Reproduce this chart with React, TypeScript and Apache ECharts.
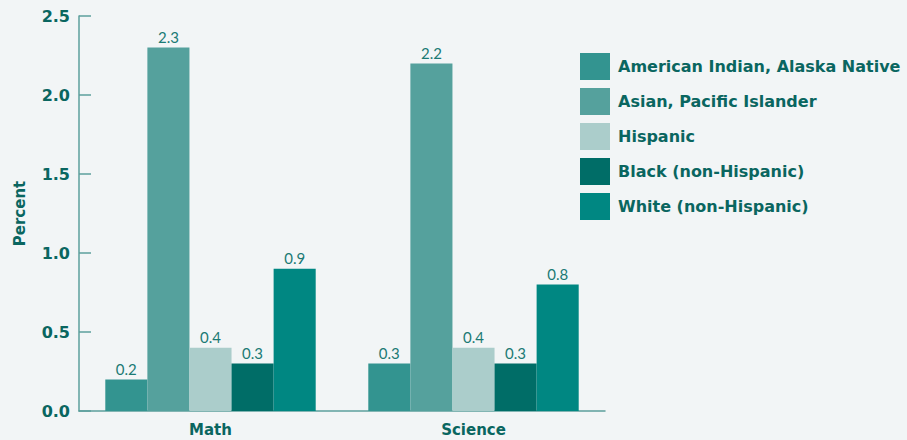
import React, { useEffect, useRef } from "react";
import * as echarts from "echarts";

const subjects = ["Math", "Science"];
const groupNames = [
  "American Indian, Alaska Native",
  "Asian, Pacific Islander",
  "Hispanic",
  "Black (non-Hispanic)",
  "White (non-Hispanic)",
];
const americanIndian = [0.2, 0.3];
const asianPacific = [2.3, 2.2];
const hispanic = [0.4, 0.4];
const black = [0.3, 0.3];
const white = [0.9, 0.8];
const groupColors = ["#339490", "#55a19d", "#abcdcb", "#006d67", "#008782"];

const TEXT = "#0a6660";
const AXIS = "#5c9f9c";
const BOLD_FONT = "'DejaVu Sans', Verdana, sans-serif";
const LIGHT_FONT = "Lato, 'Open Sans', sans-serif";

export default function App() {
  const ref = useRef<HTMLDivElement>(null);
  useEffect(() => {
    if (!ref.current) return;
    const chart = echarts.init(ref.current, undefined, { renderer: "svg" });
    const values = [americanIndian, asianPacific, hispanic, black, white];
    chart.setOption({
      animation: false,
      backgroundColor: "#f2f5f6",
      textStyle: { fontFamily: BOLD_FONT },
      grid: { left: 79, right: 302, top: 16, bottom: 29 },
      legend: {
        orient: "vertical",
        left: 575,
        top: 48,
        itemWidth: 30,
        itemHeight: 27,
        itemGap: 8,
        icon: "rect",
        data: groupNames,
        textStyle: {
          color: TEXT,
          fontWeight: "bold",
          fontSize: 16,
          fontFamily: BOLD_FONT,
          padding: [0, 0, 0, 3],
        },
      },
      xAxis: {
        type: "category",
        data: subjects,
        axisLine: { lineStyle: { color: AXIS, width: 1.5 } },
        axisTick: { inside: true, length: 10, lineStyle: { color: AXIS } },
        axisLabel: { color: TEXT, fontWeight: "bold", fontSize: 15, margin: 11, fontFamily: BOLD_FONT },
      },
      yAxis: {
        type: "value",
        min: 0,
        max: 2.5,
        interval: 0.5,
        name: "Percent",
        nameLocation: "middle",
        nameGap: 52,
        nameTextStyle: { color: TEXT, fontWeight: "bold", fontSize: 15, fontFamily: BOLD_FONT },
        splitLine: { show: false },
        axisLine: { show: true, lineStyle: { color: AXIS, width: 1.5 } },
        axisTick: { show: true, inside: true, length: 12, lineStyle: { color: AXIS, width: 1.5 } },
        axisLabel: {
          color: TEXT,
          fontWeight: "bold",
          fontSize: 16,
          margin: 9,
          fontFamily: BOLD_FONT,
          formatter: (v: number) => v.toFixed(1),
        },
      },
      series: groupNames.map((name, i) => ({
        name,
        type: "bar",
        data: values[i],
        barGap: "0%",
        barCategoryGap: "20%",
        itemStyle: { color: groupColors[i] },
        label: {
          show: true,
          position: "top",
          distance: 3,
          color: "#1b7a74",
          fontSize: 15,
          fontFamily: LIGHT_FONT,
          formatter: (p: any) => p.value.toFixed(1),
        },
      })),
    });
    return () => chart.dispose();
  }, []);
  return <div ref={ref} style={{ width: 907, height: 440, position: "absolute", left: 0, top: 0 }} />;
}
